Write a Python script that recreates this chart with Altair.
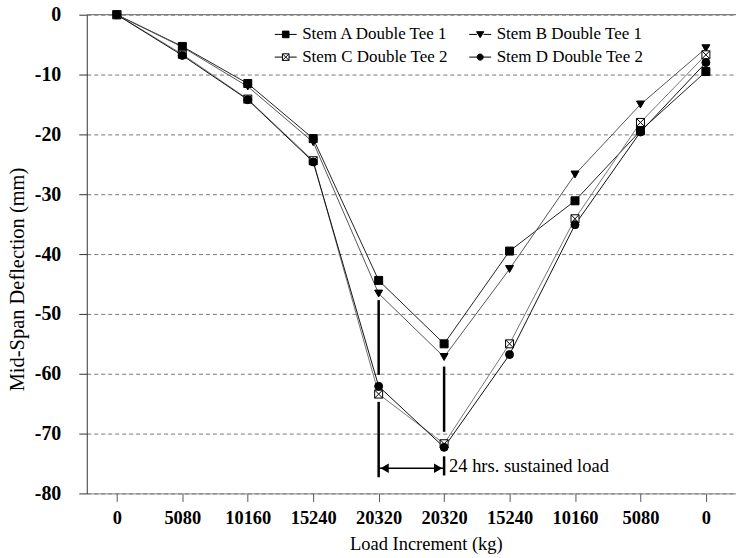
import altair as alt
import pandas as pd

# ---------------- data ----------------
x_labels = ["0", "5080", "10160", "15240", "20320", "20320", "15240", "10160", "5080", "0"]
series_names = ["Stem A Double Tee 1", "Stem B Double Tee 1", "Stem C Double Tee 2", "Stem D Double Tee 2"]
stem_a = [0, -5.3, -11.5, -20.7, -44.4, -55.0, -39.5, -31.1, -19.4, -9.5]
stem_b = [0, -5.4, -12.0, -21.3, -46.6, -57.2, -42.5, -26.7, -15.0, -5.6]
stem_c = [0, -6.6, -14.1, -24.4, -63.4, -71.7, -55.0, -34.1, -18.0, -6.7]
stem_d = [0, -6.8, -14.2, -24.6, -62.1, -72.3, -56.8, -35.1, -19.6, -8.0]

# sustained-load markers (x index, y from, y to)
rule_x = [4, 4, 5, 5]
rule_y1 = [-47.7, -64.7, -58.8, -73.8]
rule_y2 = [-60.2, -77.3, -69.7, -77.0]
arrow_x = [4, 5]
arrow_y = -75.8
note_text = "24 hrs. sustained load"

FONT = "Liberation Serif"

rows = []
for name, vals in zip(series_names, [stem_a, stem_b, stem_c, stem_d]):
    for i, v in enumerate(vals):
        rows.append({"Series": name, "idx": i, "val": v})
df = pd.DataFrame(rows)

label_js = "[" + ",".join("'%s'" % s for s in x_labels) + "]"

x_enc = alt.X("idx:Q",
              scale=alt.Scale(domain=[-0.46, 9.46], nice=False, zero=False),
              axis=alt.Axis(values=list(range(10)), labelExpr=label_js + "[datum.value]",
                            title="Load Increment (kg)", grid=False,
                            labelFont=FONT, labelFontSize=18.5, labelFontWeight="bold",
                            labelColor="black", labelPadding=7,
                            titleFont=FONT, titleFontSize=18.5, titleFontWeight="normal",
                            titleColor="black", titlePadding=8,
                            titleAnchor="start", titleAlign="center", titleX=340,
                            domainColor="#808080", tickColor="#555", tickSize=8))
y_enc = alt.Y("val:Q",
              scale=alt.Scale(domain=[-80, 0], nice=False),
              axis=alt.Axis(values=list(range(-80, 1, 5)),
                            labelExpr="datum.value % 10 === 0 ? (datum.value < 0 ? '-' + abs(datum.value) : '0') : ''",
                            title="Mid-Span Deflection (mm)",
                            grid=True,
                            gridDash=[4, 3], gridColor="#777",
                            gridOpacity={"condition": {"test": "datum.value % 10 === 0", "value": 1}, "value": 0},
                            tickSize={"condition": {"test": "datum.value % 10 === 0", "value": 8}, "value": 3},
                            labelFont=FONT, labelFontSize=20, labelFontWeight="bold",
                            labelColor="black", labelPadding=18,
                            titleFont=FONT, titleFontSize=20.5, titleFontWeight="normal",
                            titleColor="black", titlePadding=7,
                            titleAnchor="start", titleAlign="center", titleY=265,
                            domainColor="#333", tickColor="#333"))

lines = alt.Chart(df).mark_line(strokeWidth=1).encode(
    x=x_enc, y=y_enc, detail="Series:N",
    color=alt.Color("Series:N", scale=alt.Scale(domain=series_names,
                                                range=["#222", "#555", "#777", "#111"]),
                    legend=None),
)

hatch = "M-1,-1H1V1H-1ZM-1,-1L1,1M1,-1L-1,1"
points = alt.Chart(df).mark_point(filled=True, stroke="black", strokeWidth=1, size=64, opacity=1).encode(
    x="idx:Q", y="val:Q",
    shape=alt.Shape("Series:N", scale=alt.Scale(domain=series_names,
                                                range=["square", "triangle-down", hatch, "circle"]),
                    legend=None),
    fill=alt.Fill("Series:N", scale=alt.Scale(domain=series_names,
                                              range=["black", "black", "white", "black"]),
                  legend=None),
)

# legend (two columns: A | B on row 1, C | D on row 2)
leg_order = [series_names[0], series_names[2], series_names[1], series_names[3]]
leg_paths = [
    "M-1,0H-0.3M0.3,0H1M-0.3,-0.3H0.3V0.3H-0.3Z",
    "M-1,0H-0.3M0.3,0H1M-0.3,-0.3H0.3V0.3H-0.3ZM-0.3,-0.3L0.3,0.3M0.3,-0.3L-0.3,0.3",
    "M-1,0H-0.3M0.3,0H1M-0.33,-0.25H0.33L0,0.3Z",
    "M-1,0H-0.28M0.28,0H1M-0.28,0A0.28,0.28 0 1,0 0.28,0A0.28,0.28 0 1,0 -0.28,0Z",
]
leg_fill = ["black", "white", "black", "black"]
leg = alt.Legend(title=None, orient="none", legendX=188, legendY=8, columns=2,
                 columnPadding=17, rowPadding=3, padding=0,
                 symbolSize=484, symbolStrokeWidth=1,
                 symbolOpacity=1,
                 labelFont=FONT, labelFontSize=17, labelColor="black", labelOffset=5,
                 labelLimit=300)
legend_layer = alt.Chart(df).mark_point(filled=True, opacity=0).encode(
    x="idx:Q", y="val:Q",
    shape=alt.Shape("Series:N", scale=alt.Scale(domain=leg_order, range=leg_paths), legend=leg),
    fill=alt.Fill("Series:N", scale=alt.Scale(domain=leg_order, range=leg_fill), legend=leg),
    stroke=alt.Stroke("Series:N", scale=alt.Scale(domain=leg_order, range=["black"] * 4), legend=leg),
)

top_line = alt.Chart(pd.DataFrame({"v": [0]})).mark_rule(color="#808080", strokeWidth=1.2).encode(
    y="v:Q")

rules_df = pd.DataFrame({"x": rule_x, "y1": rule_y1, "y2": rule_y2})
vrules = alt.Chart(rules_df).mark_rule(color="black", strokeWidth=2.5).encode(
    x="x:Q", y="y1:Q", y2="y2:Q")

arrow_df = pd.DataFrame({"x": [arrow_x[0]], "x2": [arrow_x[1]], "y": [arrow_y]})
arrow_line = alt.Chart(arrow_df).mark_rule(color="black", strokeWidth=1.5).encode(
    x="x:Q", x2="x2:Q", y="y:Q")
heads_df = pd.DataFrame({"x": arrow_x, "y": [arrow_y, arrow_y],
                         "dir": ["left", "right"]})
head_l = alt.Chart(heads_df[heads_df.dir == "left"]).mark_point(
    shape="triangle-left", filled=True, color="black", size=90, opacity=1, xOffset=6).encode(
    x="x:Q", y="y:Q")
head_r = alt.Chart(heads_df[heads_df.dir == "right"]).mark_point(
    shape="triangle-right", filled=True, color="black", size=90, opacity=1, xOffset=-6).encode(
    x="x:Q", y="y:Q")
note = alt.Chart(pd.DataFrame({"x": [arrow_x[1]], "y": [arrow_y], "t": [note_text]})).mark_text(
    align="left", baseline="middle", dx=5, dy=-2, font=FONT, fontSize=18.5, color="black").encode(
    x="x:Q", y="y:Q", text="t:N")

chart = alt.layer(lines, top_line, vrules, arrow_line, head_l, head_r, note, points, legend_layer).resolve_scale(
    shape="independent", fill="independent", stroke="independent"
).properties(
    width=651, height=480,
    autosize=alt.AutoSizeParams(type="none"),
    padding={"left": 87, "top": 14, "right": 0, "bottom": 64},
    background="white",
).configure_view(stroke=None)

chart.save("out.html", embed_options={"renderer": "svg", "actions": False})
